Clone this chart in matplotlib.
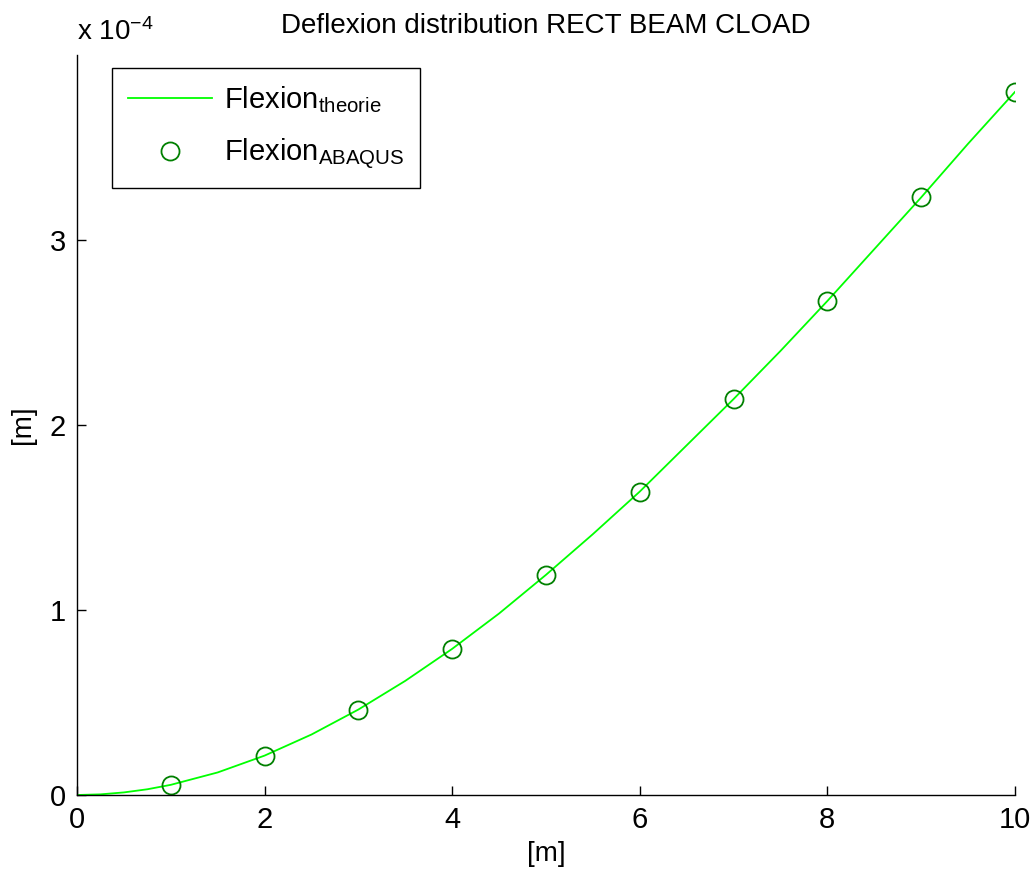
import numpy as np
import matplotlib
matplotlib.use("Agg")
import matplotlib.pyplot as plt
from matplotlib.ticker import FuncFormatter

plt.rcParams['font.family'] = ['Liberation Sans', 'DejaVu Sans']
plt.rcParams['mathtext.fontset'] = 'custom'
plt.rcParams['mathtext.rm'] = 'Liberation Sans'
plt.rcParams['mathtext.it'] = 'Liberation Sans'

# position along the beam [m]
x_theorie = [0, 0.25, 0.5, 0.75, 1, 1.5, 2, 2.5, 3, 3.5, 4, 4.5, 5,
             5.5, 6, 6.5, 7, 7.5, 8, 8.5, 9, 9.5, 10]
# theoretical deflexion [m]
w_theorie = [0, 0.0035e-4, 0.014e-4, 0.031e-4, 0.055e-4, 0.122e-4, 0.213e-4,
             0.327e-4, 0.462e-4, 0.617e-4, 0.790e-4, 0.981e-4, 1.19e-4,
             1.41e-4, 1.64e-4, 1.89e-4, 2.14e-4, 2.40e-4, 2.67e-4, 2.95e-4,
             3.23e-4, 3.52e-4, 3.80e-4]

# ABAQUS nodes
x_abaqus = [1, 2, 3, 4, 5, 6, 7, 8, 9, 10]
w_abaqus = [0.055e-4, 0.213e-4, 0.462e-4, 0.790e-4, 1.19e-4,
            1.64e-4, 2.14e-4, 2.67e-4, 3.23e-4, 3.80e-4]

fig = plt.figure(figsize=(10.34, 8.72), dpi=100)
ax = fig.add_axes([0.0745, 0.0883, 0.907, 0.8486])

ax.plot(x_theorie, w_theorie, color=(0, 1, 0), lw=1.3,
        label=r'Flexion$_{\mathrm{theorie}}$')
ax.plot(x_abaqus, w_abaqus, 'o', mfc='none', mec=(0, 0.5, 0), ms=13,
        mew=1.3, label=r'Flexion$_{\mathrm{ABAQUS}}$')

ax.set_xlim(0, 10)
ax.set_ylim(0, 4e-4)
ax.set_xticks([0, 2, 4, 6, 8, 10])
ax.set_yticks([0, 1e-4, 2e-4, 3e-4])
ax.yaxis.set_major_formatter(FuncFormatter(lambda v, p: '%g' % round(v / 1e-4, 6)))

for s in ['top', 'right']:
    ax.spines[s].set_visible(False)
for s in ['left', 'bottom']:
    ax.spines[s].set_linewidth(1.0)
ax.tick_params(direction='in', length=6.5, width=1.0, labelsize=21, pad=8)

ax.set_title('Deflexion distribution RECT BEAM CLOAD', fontsize=20, pad=16)
ax.set_xlabel('[m]', fontsize=20, labelpad=5)
ax.set_ylabel('[m]', fontsize=20, labelpad=10)
ax.text(0.0, 1.012, r'x 10$^{-4}$', transform=ax.transAxes, fontsize=20,
        ha='left', va='bottom')

leg = ax.legend(loc='upper left', bbox_to_anchor=(0.037, 0.982), fontsize=21,
                fancybox=False, edgecolor='black', framealpha=1,
                borderaxespad=0, borderpad=0.55, handlelength=2.9,
                labelspacing=0.75, handletextpad=0.4)
leg.get_frame().set_linewidth(1.0)

fig.savefig('out.png', dpi=100)
